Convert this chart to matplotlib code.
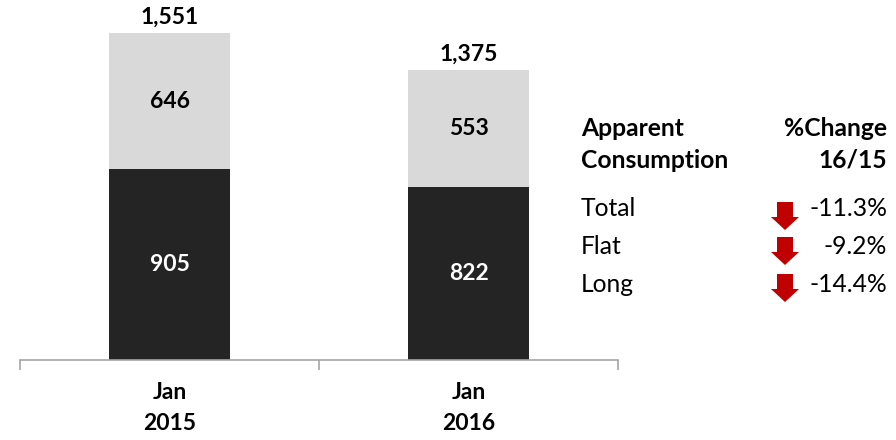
import matplotlib
matplotlib.use("Agg")
import matplotlib.pyplot as plt
from matplotlib.patches import Polygon

plt.rcParams['font.family'] = ['Lato', 'DejaVu Sans']

categories = ["Jan\n2015", "Jan\n2016"]
long_vals = [905, 822]
flat_vals = [646, 553]
totals = [1551, 1375]

table_rows = ["Total", "Flat", "Long"]
table_changes = ["-11.3%", "-9.2%", "-14.4%"]

W, H = 896, 440
fig = plt.figure(figsize=(W / 100, H / 100), dpi=100)

def fx(px):
    return px / W

def fy(py):
    return 1 - py / H

ppu = (360 - 33) / 1551.0
ymax = 1650
ax = fig.add_axes([fx(20), fy(360), fx(618) - fx(20), ymax * ppu / H])

dark = "#242424"
light = "#D9D9D9"
x = list(range(len(categories)))
ax.bar(x, long_vals, width=0.405, color=dark, zorder=2)
ax.bar(x, flat_vals, width=0.405, bottom=long_vals, color=light, zorder=2)

lfs = 16.5
for i in x:
    ax.text(i, long_vals[i] / 2, f"{long_vals[i]:,}", ha="center", va="center",
            color="white", fontsize=lfs, fontweight="bold")
    ax.text(i, long_vals[i] + flat_vals[i] / 2, f"{flat_vals[i]:,}", ha="center", va="center",
            color="black", fontsize=lfs, fontweight="bold")
    ax.annotate(f"{totals[i]:,}", (i, totals[i]), xytext=(0, 4), textcoords="offset points",
                ha="center", va="bottom", fontsize=lfs, fontweight="bold", color="black")

ax.set_xlim(-0.5, len(categories) - 0.5)
ax.set_ylim(0, ymax)
for s in ["top", "right", "left"]:
    ax.spines[s].set_visible(False)
ax.spines["bottom"].set_color("#A6A6A6")
ax.spines["bottom"].set_linewidth(1.2)
ax.set_yticks([])
ax.set_xticks(x)
ax.set_xticklabels(categories, fontsize=16.5, fontweight="bold", linespacing=1.6)
ax.tick_params(axis="x", which="major", length=0, pad=16)
ax.set_xticks([i - 0.5 for i in range(len(categories) + 1)], minor=True)
ax.tick_params(axis="x", which="minor", length=7, width=1.2, color="#A6A6A6", direction="out")

# Side table
fs = 17.7
fig.text(fx(581), fy(128), "Apparent", ha="left", va="center", fontsize=fs, fontweight="bold")
fig.text(fx(581), fy(160), "Consumption", ha="left", va="center", fontsize=fs, fontweight="bold")
fig.text(fx(887), fy(128), "%Change", ha="right", va="center", fontsize=fs, fontweight="bold")
fig.text(fx(887), fy(160), "16/15", ha="right", va="center", fontsize=fs, fontweight="bold")

row_y = [208, 246, 284]
arrow_top = [202, 237, 274]
for name, chg, yy, at in zip(table_rows, table_changes, row_y, arrow_top):
    fig.text(fx(581), fy(yy), name, ha="left", va="center", fontsize=fs)
    fig.text(fx(887), fy(yy), chg, ha="right", va="center", fontsize=fs)
    cx = 785
    sw, hw, shaft, head = 8, 14, 15, 13
    pts = [(cx - sw, at), (cx + sw, at), (cx + sw, at + shaft), (cx + hw, at + shaft),
           (cx, at + shaft + head), (cx - hw, at + shaft), (cx - sw, at + shaft)]
    poly = Polygon([(fx(px), fy(py)) for px, py in pts], closed=True,
                   transform=fig.transFigure, facecolor="#C00000", edgecolor="none")
    fig.patches.append(poly)

fig.savefig("out.png", dpi=100)
